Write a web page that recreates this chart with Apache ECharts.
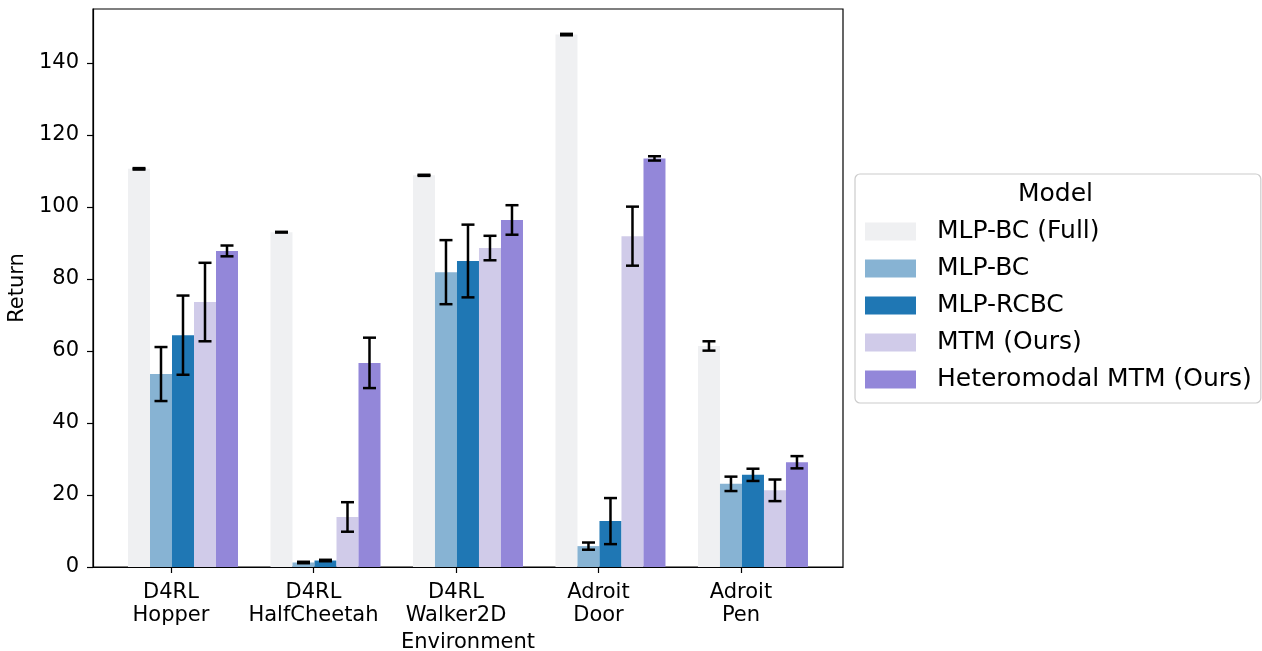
<!DOCTYPE html>
<html>
<head>
<meta charset="utf-8">
<script src="https://cdn.jsdelivr.net/npm/echarts@6/dist/echarts.min.js"></script>
<style>html,body{margin:0;padding:0;background:#fff;}#chart{width:1262px;height:651px;}</style>
</head>
<body>
<div id="chart"></div>
<script>
const categories = ['D4RL\nHopper', 'D4RL\nHalfCheetah', 'D4RL\nWalker2D', 'Adroit\nDoor', 'Adroit\nPen'];
const modelNames = ['MLP-BC (Full)', 'MLP-BC', 'MLP-RCBC', 'MTM (Ours)', 'Heteromodal MTM (Ours)'];
const fullVals = [110.6, 93.0, 108.8, 147.9, 61.4];
const fullErr  = [0.2, 0.1, 0.15, 0.2, 1.3];
const bcVals   = [53.6, 1.25, 81.9, 5.8, 23.1];
const bcErr    = [7.5, 0.2, 8.9, 1.0, 2.0];
const rcbcVals = [64.4, 1.8, 85.0, 12.75, 25.6];
const rcbcErr  = [11.0, 0.2, 10.1, 6.4, 1.7];
const mtmVals  = [73.6, 13.9, 88.6, 91.9, 21.3];
const mtmErr   = [10.9, 4.1, 3.4, 8.2, 3.0];
const hetVals  = [87.8, 56.7, 96.4, 113.5, 29.1];
const hetErr   = [1.5, 7.0, 4.1, 0.6, 1.7];
const yTicks = [0, 20, 40, 60, 80, 100, 120, 140];

const colors = ['#eff0f2', '#87b3d3', '#1f77b4', '#d0cbe9', '#9387d9'];
const allVals = [fullVals, bcVals, rcbcVals, mtmVals, hetVals];
const allErr = [fullErr, bcErr, rcbcErr, mtmErr, hetErr];
const barW = 0.1544;
const groupStart = -0.3018;
const FONT = 'DejaVu Sans';

const series = [];
modelNames.forEach((name, s) => {
  const off = groupStart + s * barW;
  const data = allVals[s].map((v, i) => [i, v, allErr[s][i]]);
  series.push({
    name: name,
    type: 'custom',
    itemStyle: { color: colors[s] },
    encode: { x: 0, y: 1 },
    data: data,
    z: 2,
    renderItem: function (params, api) {
      const x = api.value(0), v = api.value(1);
      const p0 = api.coord([x + off, v]);
      const p1 = api.coord([x + off + barW, 0]);
      return {
        type: 'rect',
        shape: { x: p0[0], y: p0[1], width: p1[0] - p0[0], height: p1[1] - p0[1] },
        style: { fill: colors[s] }
      };
    }
  });
});
modelNames.forEach((name, s) => {
  const off = groupStart + s * barW + barW / 2;
  const data = allVals[s].map((v, i) => [i, v, allErr[s][i]]);
  series.push({
    name: name + ' err',
    type: 'custom',
    encode: { x: 0, y: 1 },
    data: data,
    z: 5,
    silent: true,
    renderItem: function (params, api) {
      const x = api.value(0), v = api.value(1), e = api.value(2);
      const top = api.coord([x + off, v + e]);
      const bot = api.coord([x + off, v - e]);
      const cw = 6.5;
      const st = { stroke: '#000', lineWidth: 2.5 };
      return {
        type: 'group',
        children: [
          { type: 'line', shape: { x1: top[0], y1: top[1], x2: bot[0], y2: bot[1] }, style: st },
          { type: 'line', shape: { x1: top[0] - cw, y1: top[1], x2: top[0] + cw, y2: top[1] }, style: st },
          { type: 'line', shape: { x1: bot[0] - cw, y1: bot[1], x2: bot[0] + cw, y2: bot[1] }, style: st }
        ]
      };
    }
  });
});

const chart = echarts.init(document.getElementById('chart'), null, { renderer: 'canvas' });
chart.setOption({
  animation: false,
  backgroundColor: '#fff',
  textStyle: { fontFamily: FONT },
  grid: { left: 93, top: 9, width: 750, height: 558, show: true, borderColor: '#000', borderWidth: 1.2, backgroundColor: 'transparent', containLabel: false, outerBoundsMode: 'none' },
  xAxis: {
    type: 'value',
    min: -0.5474,
    max: 4.716,
    name: 'Environment',
    nameLocation: 'middle',
    nameGap: 64,
    nameTextStyle: { fontSize: 21, color: '#000', fontFamily: FONT },
    axisLine: { show: true, onZero: false, lineStyle: { color: '#000', width: 1.2 } },
    axisTick: { show: true, length: 6, lineStyle: { color: '#000', width: 1.2 }, customValues: [0, 1, 2, 3, 4] },
    axisLabel: {
      customValues: [0, 1, 2, 3, 4],
      formatter: v => categories[Math.round(v)],
      fontSize: 21, lineHeight: 23, color: '#000', margin: 14, fontFamily: FONT
    },
    splitLine: { show: false }
  },
  yAxis: {
    type: 'value',
    min: 0,
    max: 155,
    name: 'Return',
    nameLocation: 'middle',
    nameGap: 62,
    nameRotate: 90,
    nameTextStyle: { fontSize: 21, color: '#000', fontFamily: FONT },
    axisLine: { show: true, onZero: false, lineStyle: { color: '#000', width: 1.2 } },
    axisTick: { show: true, length: 6, lineStyle: { color: '#000', width: 1.2 }, customValues: yTicks },
    axisLabel: { customValues: yTicks, fontSize: 21, color: '#000', margin: 14, fontFamily: FONT },
    splitLine: { show: false }
  },
  legend: {
    data: modelNames,
    orient: 'vertical',
    left: 855,
    top: 174,
    padding: [45, 9, 11, 10],
    itemWidth: 51,
    itemHeight: 18,
    itemGap: 12,
    icon: 'rect',
    borderColor: '#cccccc',
    borderWidth: 1.2,
    borderRadius: 5,
    backgroundColor: '#fff',
    textStyle: { fontSize: 25, lineHeight: 25, color: '#000', fontFamily: FONT, padding: [0, 0, 0, 16] },
    selectedMode: false
  },
  graphic: [{
    type: 'text',
    left: 1058 - 40,
    top: 182,
    z: 100,
    style: { text: 'Model', fontSize: 25, fill: '#000', fontFamily: FONT, width: 80, align: 'center' }
  }],
  series: series
});
</script>
</body>
</html>
